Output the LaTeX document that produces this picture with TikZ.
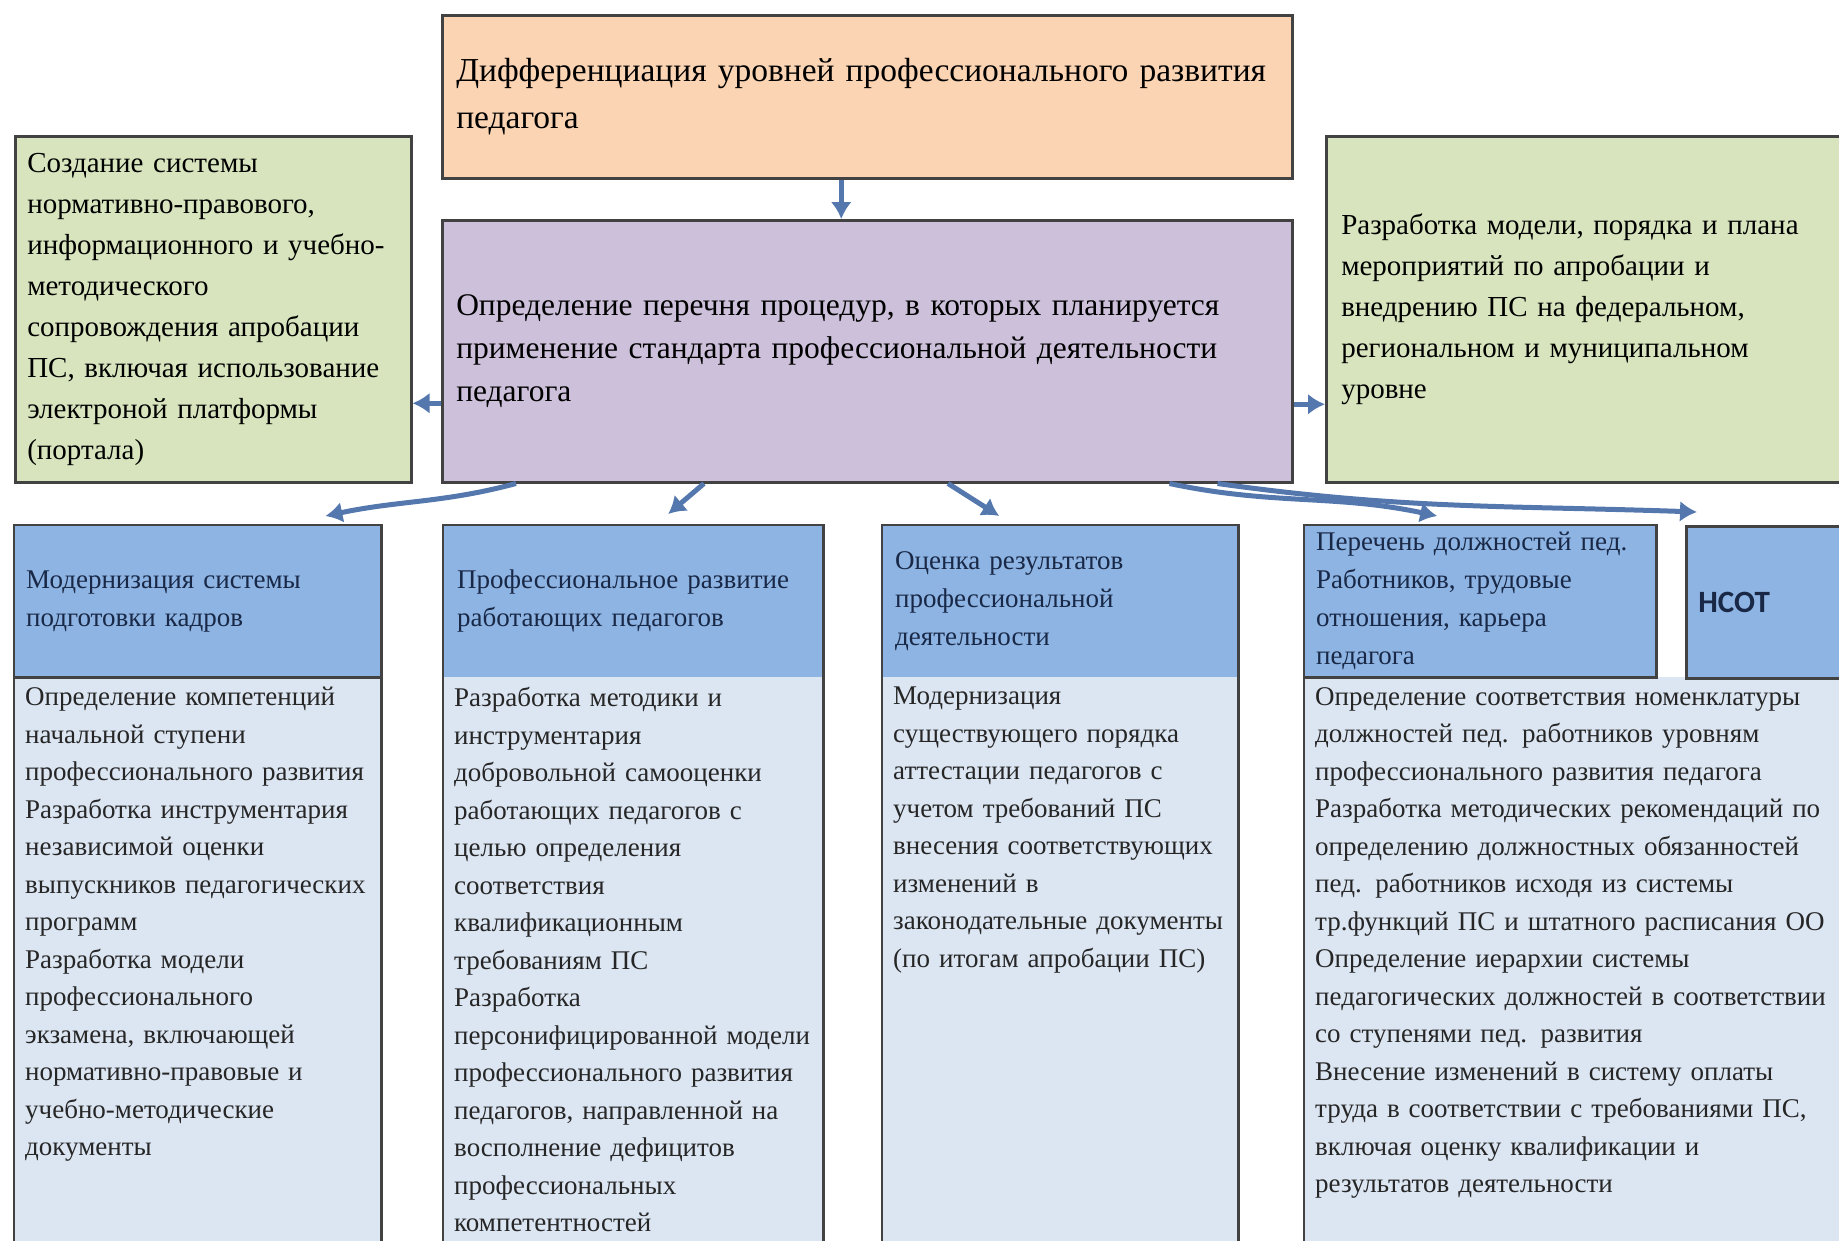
\documentclass[tikz,border=0pt]{standalone}
\usepackage{fontspec}
\setmainfont{Liberation Serif}
\newfontfamily\calib{Carlito}
\usetikzlibrary{arrows.meta}
\definecolor{edgegray}{RGB}{66,66,66}
\definecolor{peach}{RGB}{251,212,180}
\definecolor{lilac}{RGB}{204,192,218}
\definecolor{olive}{RGB}{215,228,189}
\definecolor{hdrblue}{RGB}{142,180,227}
\definecolor{paleblue}{RGB}{220,230,242}
\definecolor{navy}{RGB}{24,40,70}
\definecolor{arrblue}{RGB}{84,120,174}
\tikzset{
  block/.style={draw=edgegray,line width=2.5pt,anchor=north west,align=left,inner xsep=14pt},
  colhead/.style={fill=hdrblue,anchor=north west,minimum height=152pt,align=left,inner xsep=12pt,text=navy,font=\fontsize{27}{38}\selectfont},
  colbody/.style={fill=paleblue,anchor=north west,align=left,inner xsep=11pt,inner ysep=10pt,text depth=600pt,text=black!85,font=\fontsize{27}{37.5}\selectfont},
  link/.style={draw=arrblue,line width=5pt,-{Latex[length=17pt,width=21pt]}},
  rim/.style={draw=edgegray,line width=2.5pt}
}
\begin{document}
\begin{tikzpicture}[x=1pt,y=-1pt]
  \useasboundingbox (0,0) rectangle (1839,1240);
  \clip (0,0) rectangle (1839,1240);
  \node[block,fill=peach,minimum width=850pt,minimum height=163pt,text width=822pt,font=\fontsize{33.5}{47}\selectfont] (diff) at (441,14)
    {Дифференциация уровней профессионального развития\\педагога};
  \node[block,fill=lilac,minimum width=850pt,minimum height=262pt,text width=822pt,font=\fontsize{31.5}{43}\selectfont] (proc) at (441,219)
    {Определение перечня процедур, в которых планируется\\применение стандарта профессиональной деятельности\\педагога};
  \node[block,fill=olive,minimum width=396pt,minimum height=346pt,text width=372pt,inner xsep=12pt,font=\fontsize{29}{41}\selectfont] (norm) at (14,135)
    {Создание системы\\нормативно-правового,\\информационного и учебно-\\методического\\сопровождения апробации\\ПС, включая использование\\электроной платформы\\(портала)};
  \node[block,fill=olive,minimum width=540pt,minimum height=346pt,text width=510pt,inner xsep=15pt,font=\fontsize{29}{41}\selectfont] (plan) at (1325,135)
    {Разработка модели, порядка и плана\\мероприятий по апробации и\\внедрению ПС на федеральном,\\региональном и муниципальном\\уровне};

  \node[colbody,minimum width=367pt,text width=345pt] (b1) at (14,677)
    {Определение компетенций\\начальной ступени\\профессионального развития\\Разработка инструментария\\независимой оценки\\выпускников педагогических\\программ\\Разработка модели\\профессионального\\экзамена, включающей\\нормативно-правовые и\\учебно-методические\\документы};
  \node[colbody,minimum width=380pt,text width=358pt,inner xsep=11pt] (b2) at (443,677)
    {Разработка методики и\\инструментария\\добровольной самооценки\\работающих педагогов с\\целью определения\\соответствия\\квалификационным\\требованиям ПС\\Разработка\\персонифицированной модели\\профессионального развития\\педагогов, направленной на\\восполнение дефицитов\\профессиональных\\компетентностей};
  \node[colbody,minimum width=356pt,text width=334pt] (b3) at (882,677)
    {Модернизация\\существующего порядка\\аттестации педагогов с\\учетом требований ПС\\внесения соответствующих\\изменений в\\законодательные документы\\(по итогам апробации ПС)};
  \node[colbody,minimum width=560pt,text width=538pt] (b4) at (1304,677)
    {Определение соответствия номенклатуры\\должностей пед. работников уровням\\профессионального развития педагога\\Разработка методических рекомендаций по\\определению должностных обязанностей\\пед. работников исходя из системы\\тр.функций ПС и штатного расписания ОО\\Определение иерархии системы\\педагогических должностей в соответствии\\со ступенями пед. развития\\Внесение изменений в систему оплаты\\труда в соответствии с требованиями ПС,\\включая оценку квалификации и\\результатов деятельности};

  \node[colhead,minimum width=367pt,text width=343pt] (h1) at (14,525)
    {Модернизация системы\\подготовки кадров};
  \node[colhead,minimum width=380pt,text width=352pt,inner xsep=14pt] (h2) at (443,525)
    {Профессиональное развитие\\работающих педагогов};
  \node[colhead,minimum width=356pt,text width=330pt,inner xsep=13pt] (h3) at (882,525)
    {Оценка результатов\\профессиональной\\деятельности};
  \node[colhead,minimum width=352pt,text width=328pt] (h4) at (1304,525)
    {Перечень должностей пед.\\Работников, трудовые\\отношения, карьера\\педагога};
  \node[colhead,rim,minimum width=170pt,text width=146pt,font=\calib\bfseries\fontsize{31}{38}\selectfont] (hsot) at (1685,525)
    {НСОТ};

  \draw[rim] (b1.south west) |- (h1.north east) -- (b1.south east);
  \draw[rim] (h1.south west) -- (h1.south east);
  \draw[rim] (b2.south west) |- (h2.north east) -- (b2.south east);
  \draw[rim] (b3.south west) |- (h3.north east) -- (b3.south east);
  \draw[rim] (b4.south west) |- (h4.north east) -- (h4.south east) -- (h4.south west);

  \draw[link] ([xshift=-26pt]diff.south) -- ([xshift=-26pt]proc.north);
  \draw[link] ([yshift=-52pt]proc.west) -- ([yshift=-52pt]proc.west -| norm.east);
  \draw[link] ([yshift=-53pt]proc.east) -- ([yshift=-53pt]proc.east -| plan.west);
  \draw[link] ([xshift=75pt]proc.south west) to[out=195,in=12] ([xshift=-56pt,yshift=9pt]h1.north east);
  \draw[link] ([xshift=263pt]proc.south west) -- ([xshift=35pt,yshift=11pt]h2.north);
  \draw[link] ([xshift=507pt]proc.south west) -- ([xshift=-61pt,yshift=9pt]h3.north);
  \draw[link] ([xshift=-124pt]proc.south east) to[out=-12,in=168] ([xshift=-43pt,yshift=9pt]h4.north);
  \draw[link] ([xshift=-76pt]proc.south east) to[out=-8,in=178] ([xshift=12pt,yshift=13pt]hsot.north west);
\end{tikzpicture}
\end{document}
